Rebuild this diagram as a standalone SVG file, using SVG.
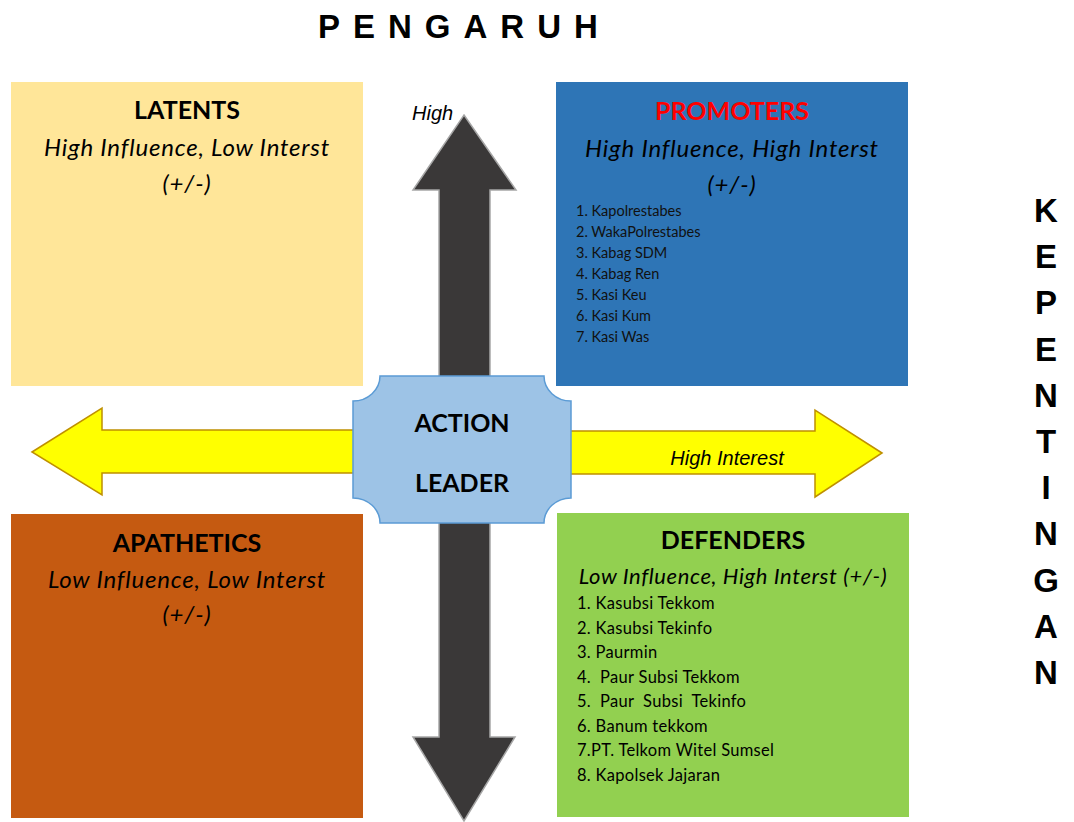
<svg xmlns="http://www.w3.org/2000/svg" width="1074" height="822" viewBox="0 0 1074 822">
<style>
.t{font-family:"Liberation Sans",Arial,sans-serif;font-weight:bold;font-size:33px;fill:#000}
.h{font-family:Lato,"Open Sans",sans-serif;font-weight:bold;font-size:25px;fill:#000;text-anchor:middle}
.s{font-family:Lato,"Open Sans",sans-serif;font-style:italic;font-size:24px;letter-spacing:0.8px;fill:#000;text-anchor:middle}
.s2{font-family:Lato,"Open Sans",sans-serif;font-style:italic;font-size:22px;letter-spacing:0.6px;fill:#000;text-anchor:middle}
.li{font-family:Lato,"Open Sans",sans-serif;font-size:14.5px;fill:#111}
.ld{font-family:Lato,"Open Sans",sans-serif;font-size:16.5px;letter-spacing:0.3px;fill:#000}
.ai{font-family:"Liberation Sans",Arial,sans-serif;font-style:italic;font-size:20px;fill:#000}
.ya{fill:#FFFF00;stroke:#BF9000;stroke-width:1.5}
.da{fill:#3A3838;stroke:#A6A6A6;stroke-width:1.5}
</style>
<rect width="1074" height="822" fill="#fff"/>
<text class="t" x="318" y="38" letter-spacing="13">PENGARUH</text>
<g id="kepentingan" class="t" text-anchor="middle">
<text x="1046" y="222">K</text>
<text x="1046" y="268">E</text>
<text x="1046" y="314">P</text>
<text x="1046" y="361">E</text>
<text x="1046" y="407">N</text>
<text x="1046" y="453">T</text>
<text x="1046" y="499">I</text>
<text x="1046" y="545">N</text>
<text x="1046" y="592">G</text>
<text x="1046" y="638">A</text>
<text x="1046" y="684">N</text>
</g>
<g id="connectors">
<path class="da" d="M464,115 L516,190 L490,190 L490,737 L515,737 L464,821 L413,737 L439,737 L439,190 L413,190 Z"/>
<path class="ya" d="M32,452 L102,408 L102,430 L356,430 L356,473 L102,473 L102,495 Z"/>
<path class="ya" d="M882,453 L815,410 L815,431 L568,431 L568,474 L815,474 L815,497 Z"/>
<text class="ai" x="412" y="120">High</text>
<text class="ai" x="727" y="465" text-anchor="middle">High Interest</text>
</g>
<g id="latents">
<rect x="11" y="82" width="352" height="304" fill="#FFE699"/>
<text class="h" x="187" y="119">LATENTS</text>
<text class="s" x="187" y="156">High Influence, Low Interst</text>
<text class="s" x="187" y="192">(+/-)</text>
</g>
<g id="promoters">
<rect x="556" y="82" width="352" height="304" fill="#2E75B6"/>
<text class="h" x="732" y="120" style="fill:#FF0000">PROMOTERS</text>
<text class="s" x="732" y="157">High Influence, High Interst</text>
<text class="s" x="732" y="193">(+/-)</text>
<text class="li" x="576" y="216">1. Kapolrestabes</text>
<text class="li" x="576" y="237">2. WakaPolrestabes</text>
<text class="li" x="576" y="258">3. Kabag SDM</text>
<text class="li" x="576" y="279">4. Kabag Ren</text>
<text class="li" x="576" y="300">5. Kasi Keu</text>
<text class="li" x="576" y="321">6. Kasi Kum</text>
<text class="li" x="576" y="342">7. Kasi Was</text>
</g>
<g id="apathetics">
<rect x="11" y="514" width="352" height="304" fill="#C55A11"/>
<text class="h" x="187" y="552">APATHETICS</text>
<text class="s" x="187" y="588">Low Influence, Low Interst</text>
<text class="s" x="187" y="623">(+/-)</text>
</g>
<g id="defenders">
<rect x="557" y="513" width="352" height="304" fill="#92D050"/>
<text class="h" x="733" y="549">DEFENDERS</text>
<text class="s2" x="733" y="584">Low Influence, High Interst (+/-)</text>
<text class="ld" x="577" y="609">1. Kasubsi Tekkom</text>
<text class="ld" x="577" y="634">2. Kasubsi Tekinfo</text>
<text class="ld" x="577" y="658">3. Paurmin</text>
<text class="ld" x="577" y="683" xml:space="preserve">4.  Paur Subsi Tekkom</text>
<text class="ld" x="577" y="707" xml:space="preserve">5.  Paur  Subsi  Tekinfo</text>
<text class="ld" x="577" y="732">6. Banum tekkom</text>
<text class="ld" x="577" y="756">7.PT. Telkom Witel Sumsel</text>
<text class="ld" x="577" y="781">8. Kapolsek Jajaran</text>
</g>
<g id="action-leader">
<path d="M380,376 L544,376 A27,25 0 0 0 571,401 L571,498 A27,25 0 0 0 544,523 L380,523 A27,25 0 0 0 353,498 L353,401 A27,25 0 0 0 380,376 Z" fill="#9DC3E6" stroke="#5B9BD5" stroke-width="1.5"/>
<text class="h" x="462" y="432">ACTION</text>
<text class="h" x="462" y="492">LEADER</text>
</g>
</svg>
